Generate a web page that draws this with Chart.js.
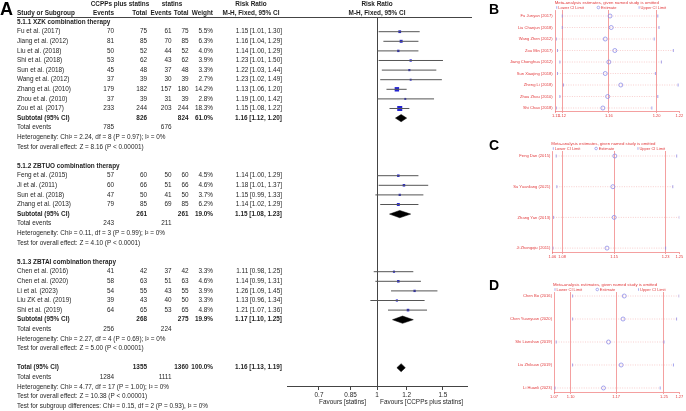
<!DOCTYPE html>
<html lang="en">
<head>
<meta charset="UTF-8" />
<title>Forest plot and sensitivity analysis</title>
<script src="https://cdn.jsdelivr.net/npm/chart.js"></script>
<style>
  body { margin: 0; background: #fff; }
  #wrap { position: relative; width: 686px; height: 411px; overflow: hidden; }
  canvas { position: absolute; }
  #forest { left: 0; top: 0; }
  #sensB { left: 478px; top: 0; }
  #sensC { left: 478px; top: 128px; }
  #sensD { left: 478px; top: 270px; }
</style>
</head>
<body>
<div id="wrap">
  <canvas id="forest" width="478" height="411"></canvas>
  <canvas id="sensB" width="208" height="125"></canvas>
  <canvas id="sensC" width="208" height="140"></canvas>
  <canvas id="sensD" width="208" height="141"></canvas>
</div>

<script>
  // ---- panel A: forest plot data ----
  const studyNames = ["Fu et al. (2017)", "Jiang et al. (2012)", "Liu et al. (2018)", "Shi et al. (2018)",
    "Sun et al. (2018)", "Wang et al. (2012)", "Zhang et al. (2010)", "Zhou et al. (2010)", "Zou et al. (2017)",
    "Feng et al. (2015)", "Ji et al. (2011)", "Sun et al. (2018)", "Zhang et al. (2013)",
    "Chen et al. (2016)", "Chen et al. (2020)", "Li et al. (2023)", "Liu ZK et al. (2019)", "Shi et al. (2019)"];
  const studyGroup = [0, 0, 0, 0, 0, 0, 0, 0, 0, 1, 1, 1, 1, 2, 2, 2, 2, 2];
  const expEvents = [70, 81, 50, 53, 45, 37, 179, 37, 233, 57, 60, 47, 79, 41, 58, 54, 39, 64];
  const expTotal = [75, 85, 52, 62, 48, 39, 182, 39, 244, 60, 66, 50, 85, 42, 63, 55, 43, 65];
  const ctlEvents = [61, 70, 44, 43, 37, 30, 157, 31, 203, 50, 51, 41, 69, 37, 51, 43, 40, 53];
  const ctlTotal = [75, 85, 52, 62, 48, 39, 180, 39, 244, 60, 66, 50, 85, 42, 63, 55, 50, 65];
  const weights = [5.5, 6.3, 4.0, 3.9, 3.3, 2.7, 14.2, 2.8, 18.3, 4.5, 4.6, 3.7, 6.2, 3.3, 4.6, 3.9, 3.3, 4.8];
  const rr = [1.15, 1.16, 1.14, 1.23, 1.22, 1.23, 1.13, 1.19, 1.15, 1.14, 1.18, 1.15, 1.14, 1.11, 1.14, 1.26, 1.13, 1.21];
  const rrLow = [1.01, 1.04, 1.00, 1.01, 1.03, 1.02, 1.06, 1.00, 1.08, 1.00, 1.01, 0.99, 1.02, 0.98, 0.99, 1.09, 0.96, 1.07];
  const rrHigh = [1.30, 1.29, 1.29, 1.50, 1.44, 1.49, 1.20, 1.42, 1.22, 1.29, 1.37, 1.33, 1.29, 1.25, 1.31, 1.45, 1.34, 1.36];

  const subgroupNames = ["5.1.1 XZK combination therapy", "5.1.2 ZBTUO combination therapy", "5.1.3 ZBTAI combination therapy"];
  const subExpTotal = [826, 261, 268];
  const subCtlTotal = [824, 261, 275];
  const subWeight = [61.0, 19.0, 19.9];
  const subRR = [1.16, 1.15, 1.17];
  const subLow = [1.12, 1.08, 1.10];
  const subHigh = [1.20, 1.23, 1.25];
  const subExpEvents = [785, 243, 256];
  const subCtlEvents = [676, 211, 224];
  const subHeterogeneity = ["Heterogeneity: Chi² = 2.24, df = 8 (P = 0.97); I² = 0%",
    "Heterogeneity: Chi² = 0.11, df = 3 (P = 0.99); I² = 0%",
    "Heterogeneity: Chi² = 2.27, df = 4 (P = 0.69); I² = 0%"];
  const subOverall = ["Test for overall effect: Z = 8.16 (P < 0.00001)",
    "Test for overall effect: Z = 4.10 (P < 0.0001)",
    "Test for overall effect: Z = 5.00 (P < 0.00001)"];

  const overallTotals = [1355, 1360];
  const overallWeight = 100.0;
  const overallRR = [1.16, 1.13, 1.19];
  const overallEvents = [1284, 1111];
  const overallNotes = ["Heterogeneity: Chi² = 4.77, df = 17 (P = 1.00); I² = 0%",
    "Test for overall effect: Z = 10.38 (P < 0.00001)",
    "Test for subgroup differences: Chi² = 0.15, df = 2 (P = 0.93), I² = 0%"];

  const forestTicks = [0.7, 0.85, 1, 1.2, 1.5];
  const forestTickLabels = ["0.7", "0.85", "1", "1.2", "1.5"];

  // ---- panels B, C, D: leave-one-out sensitivity data ----
  const sensBNames = ["Fu Junyan (2017)", "Liu Chanjun (2018)", "Wang Zhen (2012)", "Zou Min (2017)",
    "Jiang Chonghua (2012)", "Sun Xiaojing (2018)", "Zheng Li (2018)", "Zhou Zhou (2010)", "Shi Chao (2018)"];
  const sensBEst = [1.161, 1.162, 1.157, 1.165, 1.160, 1.157, 1.170, 1.159, 1.155];
  const sensBLow = [1.121, 1.121, 1.116, 1.117, 1.119, 1.117, 1.122, 1.119, 1.116];
  const sensBHigh = [1.201, 1.202, 1.198, 1.214, 1.204, 1.199, 1.218, 1.201, 1.196];
  const sensBTicks = [1.1155, 1.1208, 1.160, 1.200, 1.219];
  const sensBTickLabels = ["1.11", "1.12", "1.16", "1.20", "1.22"];

  const sensCNames = ["Feng Dan (2015)", "Su Yuanliang (2021)", "Zhang Yan (2013)", "Ji Zhongqiu (2011)"];
  const sensCEst = [1.154, 1.151, 1.153, 1.142];
  const sensCLow = [1.064, 1.065, 1.060, 1.059];
  const sensCHigh = [1.249, 1.243, 1.253, 1.232];
  const sensCTicks = [1.058, 1.073, 1.153, 1.232, 1.253];
  const sensCTickLabels = ["1.06", "1.08", "1.15", "1.23", "1.25"];

  const sensDNames = ["Chen Bo (2016)", "Chen Yuanyuan (2020)", "Shi Lianshan (2019)", "Liu Zhikuan (2019)", "Li Huanli (2023)"];
  const sensDEst = [1.185, 1.183, 1.160, 1.180, 1.152];
  const sensDLow = [1.103, 1.103, 1.077, 1.103, 1.075];
  const sensDHigh = [1.272, 1.268, 1.248, 1.263, 1.242];
  const sensDTicks = [1.0735, 1.100, 1.172, 1.248, 1.2723];
  const sensDTickLabels = ["1.07", "1.10", "1.17", "1.25", "1.27"];

  const FAMILY = "'Liberation Sans', Arial, sans-serif";
  const INK = "#1f1f1f";
  const RED = "#e2393b";
  const RED_LINE = "rgba(236, 96, 96, 0.75)";
  const LAV = "#8d8de8";
  const TABLE_FONT = 6.4;

  // row index of each line of the table (one row = one study line)
  const layout = [];
  let row = -1;
  const studyRow = [];
  subgroupNames.forEach((name, g) => {
    layout.push({ row: row++, kind: "group", g });
    studyNames.forEach((s, k) => {
      if (studyGroup[k] === g) { studyRow[k] = row; layout.push({ row: row++, kind: "study", k }); }
    });
    layout.push({ row: row++, kind: "subtotal", g });
    layout.push({ row: row++, kind: "events", g });
    layout.push({ row: row++, kind: "het", g });
    layout.push({ row: row++, kind: "test", g });
    row++;
  });
  const totalRow = row;

  const ciText = (m, l, h) => m.toFixed(2) + " [" + l.toFixed(2) + ", " + h.toFixed(2) + "]";
  const COL = { name: 17, e1: 114, t1: 147, e2: 171.5, t2: 188.5, w: 213, rr: 282, rrMid: 251 };

  const forestText = {
    id: "forestText",
    beforeDatasetsDraw(chart) {
      const { ctx, chartArea, scales: { x } } = chart;
      const x1 = Math.round(x.getPixelForValue(1)) + 0.5;
      ctx.save();
      ctx.strokeStyle = "#444";
      ctx.lineWidth = 1;
      ctx.beginPath();
      ctx.moveTo(x1, chartArea.top);
      ctx.lineTo(x1, chartArea.bottom);
      ctx.stroke();
      ctx.restore();
    },
    afterDraw(chart) {
      const { ctx, chartArea, scales: { x, y } } = chart;
      ctx.save();
      ctx.strokeStyle = "#444";
      ctx.lineWidth = 1;
      ctx.beginPath();
      ctx.moveTo(COL.name, chartArea.top + 0.5);
      ctx.lineTo(472, chartArea.top + 0.5);
      ctx.stroke();

      ctx.fillStyle = INK;
      ctx.textBaseline = "middle";
      const put = (s, px, r, align, bold) => {
        ctx.font = (bold ? "bold " : "") + TABLE_FONT + "px " + FAMILY;
        ctx.textAlign = align;
        ctx.fillText(s, px, y.getPixelForValue(r));
      };

      // column headers
      put("CCPPs plus statins", 120, -2.85, "center", true);
      put("statins", 172, -2.85, "center", true);
      put("Risk Ratio", COL.rrMid, -2.85, "center", true);
      put("Risk Ratio", x.getPixelForValue(1), -2.85, "center", true);
      put("Study or Subgroup", COL.name, -1.95, "left", true);
      put("Events", COL.e1, -1.95, "right", true);
      put("Total", COL.t1, -1.95, "right", true);
      put("Events", COL.e2, -1.95, "right", true);
      put("Total", COL.t2, -1.95, "right", true);
      put("Weight", COL.w, -1.95, "right", true);
      put("M-H, Fixed, 95% CI", COL.rrMid, -1.95, "center", true);
      put("M-H, Fixed, 95% CI", x.getPixelForValue(1), -1.95, "center", true);

      layout.forEach(item => {
        const r = item.row;
        if (item.kind === "group") {
          put(subgroupNames[item.g], COL.name, r, "left", true);
        } else if (item.kind === "study") {
          const k = item.k;
          put(studyNames[k], COL.name, r, "left");
          put(String(expEvents[k]), COL.e1, r, "right");
          put(String(expTotal[k]), COL.t1, r, "right");
          put(String(ctlEvents[k]), COL.e2, r, "right");
          put(String(ctlTotal[k]), COL.t2, r, "right");
          put(weights[k].toFixed(1) + "%", COL.w, r, "right");
          put(ciText(rr[k], rrLow[k], rrHigh[k]), COL.rr, r, "right");
        } else if (item.kind === "subtotal") {
          const g = item.g;
          put("Subtotal (95% CI)", COL.name, r, "left", true);
          put(String(subExpTotal[g]), COL.t1, r, "right", true);
          put(String(subCtlTotal[g]), COL.t2, r, "right", true);
          put(subWeight[g].toFixed(1) + "%", COL.w, r, "right", true);
          put(ciText(subRR[g], subLow[g], subHigh[g]), COL.rr, r, "right", true);
        } else if (item.kind === "events") {
          put("Total events", COL.name, r, "left");
          put(String(subExpEvents[item.g]), COL.e1, r, "right");
          put(String(subCtlEvents[item.g]), COL.e2, r, "right");
        } else if (item.kind === "het") {
          put(subHeterogeneity[item.g], COL.name, r, "left");
        } else {
          put(subOverall[item.g], COL.name, r, "left");
        }
      });

      put("Total (95% CI)", COL.name, totalRow, "left", true);
      put(String(overallTotals[0]), COL.t1, totalRow, "right", true);
      put(String(overallTotals[1]), COL.t2, totalRow, "right", true);
      put(overallWeight.toFixed(1) + "%", COL.w, totalRow, "right", true);
      put(ciText(overallRR[0], overallRR[1], overallRR[2]), COL.rr, totalRow, "right", true);
      put("Total events", COL.name, totalRow + 1, "left");
      put(String(overallEvents[0]), COL.e1, totalRow + 1, "right");
      put(String(overallEvents[1]), COL.e2, totalRow + 1, "right");
      overallNotes.forEach((s, i) => put(s, COL.name, totalRow + 2 + i, "left"));

      // favours labels under the axis
      ctx.font = TABLE_FONT + "px " + FAMILY;
      const x1 = x.getPixelForValue(1);
      ctx.textAlign = "right";
      ctx.fillText("Favours [statins]", x1 - 11, chartArea.bottom + 16);
      ctx.textAlign = "left";
      ctx.fillText("Favours [CCPPs plus statins]", x1 + 3, chartArea.bottom + 16);

      ctx.font = "bold 18px " + FAMILY;
      ctx.fillStyle = "#000";
      ctx.textBaseline = "alphabetic";
      ctx.fillText("A", 0, 15);
      ctx.restore();
    }
  };

  // confidence interval segments, broken by null points
  const ciSegments = [];
  studyNames.forEach((s, k) => {
    ciSegments.push({ x: rrLow[k], y: studyRow[k] }, { x: rrHigh[k], y: studyRow[k] }, { x: rrHigh[k], y: null });
  });

  const diamond = (m, l, h, r, half) => ({
    data: [{ x: l, y: r }, { x: m, y: r - half }, { x: h, y: r }, { x: m, y: r + half }, { x: l, y: r }],
    borderColor: "#000", backgroundColor: "#000", borderWidth: 0.5,
    fill: "shape", pointRadius: 0, tension: 0
  });
  const subRows = layout.filter(d => d.kind === "subtotal").map(d => d.row);

  new Chart(document.getElementById("forest"), {
    type: "line",
    data: {
      datasets: [
        { data: ciSegments, borderColor: "#555", borderWidth: 1, pointRadius: 0, spanGaps: false },
        {
          data: studyNames.map((s, k) => ({ x: rr[k], y: studyRow[k] })),
          showLine: false, pointStyle: "rect",
          pointRadius: weights.map(w => 0.83 * Math.sqrt(w)),
          pointBackgroundColor: "#2323d2", pointBorderWidth: 0
        },
        ...subgroupNames.map((n, g) => diamond(subRR[g], subLow[g], subHigh[g], subRows[g], 0.38)),
        diamond(overallRR[0], overallRR[1], overallRR[2], totalRow, 0.42)
      ]
    },
    options: {
      responsive: false,
      animation: false,
      layout: { padding: { left: 287, right: 11, top: 17, bottom: 0 } },
      plugins: { legend: { display: false }, tooltip: { enabled: false } },
      scales: {
        x: {
          type: "logarithmic", min: 0.575, max: 1.739,
          afterBuildTicks: s => { s.ticks = forestTicks.map(v => ({ value: v })); },
          afterFit: s => { s.height = 25; },
          grid: { drawOnChartArea: false, color: "#444", tickLength: 4 },
          border: { color: "#444", width: 1 },
          ticks: {
            autoSkip: false, maxRotation: 0, padding: 1, color: INK,
            font: { family: FAMILY, size: TABLE_FONT },
            callback: (v, i) => forestTickLabels[i]
          }
        },
        y: { type: "linear", reverse: true, min: -1.531, max: 36.906, display: false }
      }
    },
    plugins: [forestText]
  });

  // ---- sensitivity panels ----
  const sensHeader = {
    id: "sensHeader",
    afterDraw(chart, args, opts) {
      const { ctx, chartArea: a } = chart;
      ctx.save();
      ctx.fillStyle = RED;
      ctx.textBaseline = "middle";
      ctx.textAlign = "left";
      ctx.font = "4.3px " + FAMILY;
      ctx.fillText("Meta-analysis estimates, given named study is omitted", a.left - 1, a.top - 7);
      const w = (a.right - a.left) / 3;
      const ly = a.top - 2.5;
      ctx.font = "4px " + FAMILY;
      ["Lower CI Limit", "Estimate", "Upper CI Limit"].forEach((t, k) => {
        const lx = a.left + k * w;
        ctx.strokeStyle = LAV;
        ctx.lineWidth = 0.7;
        ctx.beginPath();
        if (k === 1) ctx.arc(lx + 1.5, ly, 1.3, 0, Math.PI * 2);
        else { ctx.moveTo(lx + 1, ly - 1.3); ctx.lineTo(lx + 1, ly + 1.3); }
        ctx.stroke();
        ctx.fillText(t, lx + (k === 1 ? 4 : 2.5), ly);
      });
      ctx.font = "bold 14px " + FAMILY;
      ctx.fillStyle = "#000";
      ctx.textBaseline = "alphabetic";
      ctx.fillText(opts.letter, 11, opts.letterY);
      ctx.restore();
    }
  };

  function sensitivityChart(id, names, est, low, high, ticks, tickLabels, box) {
    const spans = [];
    names.forEach((n, i) => { spans.push({ x: low[i], y: i }, { x: high[i], y: i }, { x: high[i], y: null }); });
    const marks = vals => vals.map((v, i) => ({ x: v, y: i }));
    const capStyle = {
      showLine: false, pointStyle: "line", pointRotation: 90, pointRadius: 1.5,
      pointBorderColor: LAV, pointBorderWidth: 0.8
    };
    return new Chart(document.getElementById(id), {
      type: "line",
      data: {
        datasets: [
          { data: spans, borderColor: "rgba(238, 140, 140, 0.7)", borderWidth: 0.6, borderDash: [1, 1.4], pointRadius: 0 },
          Object.assign({ data: marks(low) }, capStyle),
          {
            data: marks(est), showLine: false, pointStyle: "circle", pointRadius: 2,
            pointBorderColor: LAV, pointBackgroundColor: "rgba(255,255,255,0)", pointBorderWidth: 0.8
          },
          Object.assign({ data: marks(high) }, capStyle)
        ]
      },
      options: {
        responsive: false,
        animation: false,
        layout: { padding: { left: 0, right: box.right, top: box.top, bottom: 0 } },
        plugins: {
          legend: { display: false }, tooltip: { enabled: false },
          sensHeader: { letter: box.letter, letterY: box.letterY }
        },
        scales: {
          x: {
            type: "linear", min: ticks[0], max: ticks[ticks.length - 1],
            afterBuildTicks: s => { s.ticks = ticks.map(v => ({ value: v })); },
            afterFit: s => { s.height = box.axis; },
            grid: {
              color: c => (c.index > 0 && c.index < ticks.length - 1) ? RED_LINE : "rgba(0,0,0,0)",
              tickColor: RED_LINE, tickLength: 2, lineWidth: 0.8
            },
            border: { color: RED_LINE, width: 0.8 },
            ticks: {
              autoSkip: false, maxRotation: 0, padding: 0.5, color: RED,
              font: { family: FAMILY, size: 4 },
              callback: (v, i) => tickLabels[i]
            }
          },
          y: {
            type: "linear", reverse: true, min: box.yMin, max: box.yMax,
            afterBuildTicks: s => { s.ticks = names.map((n, i) => ({ value: i })); },
            afterFit: s => { s.width = box.yWidth; },
            grid: { display: false, drawTicks: false },
            border: { color: RED_LINE, width: 0.8 },
            ticks: {
              autoSkip: false, padding: box.gap, color: RED,
              font: { family: FAMILY, size: 4.1 },
              callback: v => names[v]
            }
          }
        }
      },
      plugins: [sensHeader]
    });
  }

  sensitivityChart("sensB", sensBNames, sensBEst, sensBLow, sensBHigh, sensBTicks, sensBTickLabels,
    { top: 10, right: 6.7, axis: 14, yWidth: 77.7, yMin: -0.522, yMax: 8.26, gap: 3, letter: "B", letterY: 14 });
  sensitivityChart("sensC", sensCNames, sensCEst, sensCLow, sensCHigh, sensCTicks, sensCTickLabels,
    { top: 23, right: 6.7, axis: 16, yWidth: 74.3, yMin: -0.163, yMax: 3.127, gap: 2, letter: "C", letterY: 22 });
  sensitivityChart("sensD", sensDNames, sensDEst, sensDLow, sensDHigh, sensDTicks, sensDTickLabels,
    { top: 22, right: 6.7, axis: 19, yWidth: 76, yMin: -0.174, yMax: 4.174, gap: 2, letter: "D", letterY: 20 });
</script>
</body>
</html>
